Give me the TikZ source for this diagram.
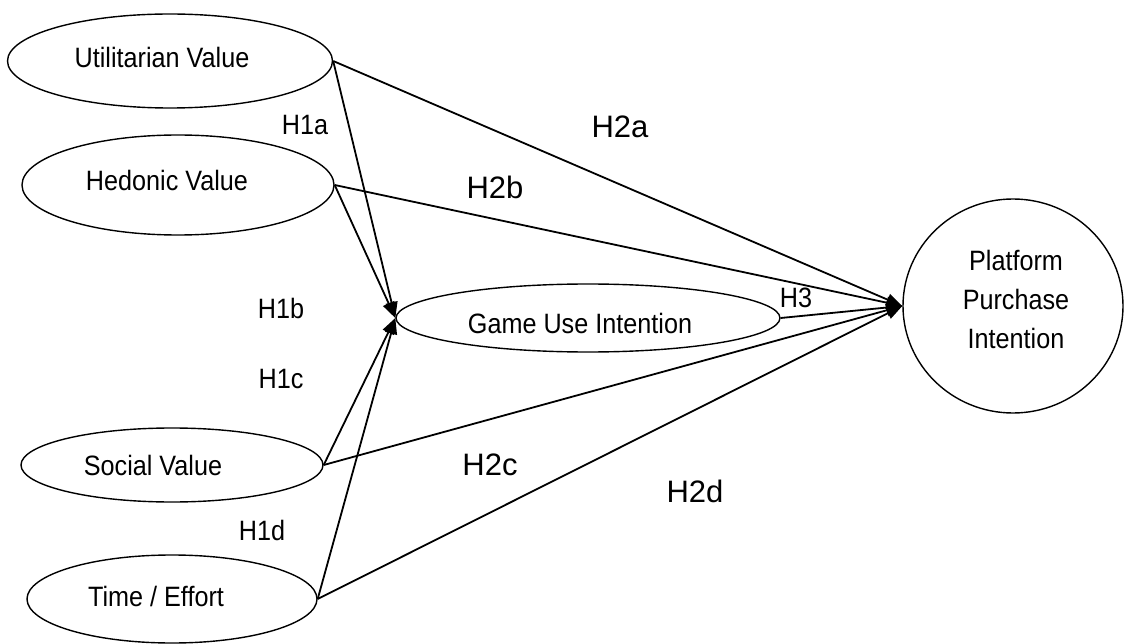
\documentclass[tikz,border=0pt]{standalone}
\usepackage{fontspec}
\setmainfont{Liberation Sans}
\newfontfamily\narrowsans[FakeStretch=0.9]{Liberation Sans}
\usetikzlibrary{shapes.geometric, arrows.meta}

\begin{document}
\begin{tikzpicture}[
    x=1pt, y=-1pt,
    construct/.style={ellipse, draw, line width=1.4pt, inner sep=0pt},
    lbl/.style={font=\narrowsans\fontsize{28}{32}\selectfont},
    arrow/.style={-{Triangle[length=16pt, width=12pt]}, line width=1.8pt},
    hyp/.style={font=\fontsize{31}{36}\selectfont},
    hypsmall/.style={font=\narrowsans\fontsize{28}{32}\selectfont}
]
\useasboundingbox (0,0) rectangle (1124,644);

% constructs
\node[construct, minimum width=325pt, minimum height=94pt,
      label={[lbl, xshift=-8pt, yshift=4pt]center:Utilitarian Value}] (util) at (170,61) {};
\node[construct, minimum width=312pt, minimum height=100pt,
      label={[lbl, xshift=-11pt, yshift=5pt]center:Hedonic Value}] (hedon) at (178,185) {};
\node[construct, minimum width=302pt, minimum height=74pt,
      label={[lbl, xshift=-19pt]center:Social Value}] (social) at (172,465) {};
\node[construct, minimum width=290pt, minimum height=88pt,
      label={[lbl, xshift=-16pt, yshift=3pt]center:Time / Effort}] (time) at (172,599) {};
\node[construct, minimum width=384pt, minimum height=68pt,
      label={[lbl, xshift=-8pt, yshift=-5pt]center:Game Use Intention}] (game) at (588,318) {};
\node[construct, minimum width=220pt, minimum height=214pt,
      label={[lbl, align=center, font=\narrowsans\fontsize{28}{39}\selectfont, xshift=3pt, yshift=7pt]center:Platform\\Purchase\\Intention}] (ppi) at (1013,306) {};

% paths to game use intention
\draw[arrow] (util.east) -- (game.west);
\draw[arrow] (hedon.east) -- (game.west);
\draw[arrow] (social.east) -- (game.west);
\draw[arrow] (time.east) -- (game.west);

% paths to platform purchase intention
\draw[arrow] (util.east) -- (ppi.west);
\draw[arrow] (hedon.east) -- (ppi.west);
\draw[arrow] (game.east) -- (ppi.west);
\draw[arrow] (social.east) -- (ppi.west);
\draw[arrow] (time.east) -- (ppi.west);

% hypotheses
\node[hypsmall] (h1a) at (305,125) {H1a};
\node[hyp] (h2a) at (620,127) {H2a};
\node[hyp] (h2b) at (495,187) {H2b};
\node[hypsmall] (h1b) at (281,308) {H1b};
\node[hypsmall] (h3) at (796,298) {H3};
\node[hypsmall] (h1c) at (281,379) {H1c};
\node[hyp] (h2c) at (490,465) {H2c};
\node[hyp] (h2d) at (695,491) {H2d};
\node[hypsmall] (h1d) at (262,530) {H1d};
\end{tikzpicture}
\end{document}
